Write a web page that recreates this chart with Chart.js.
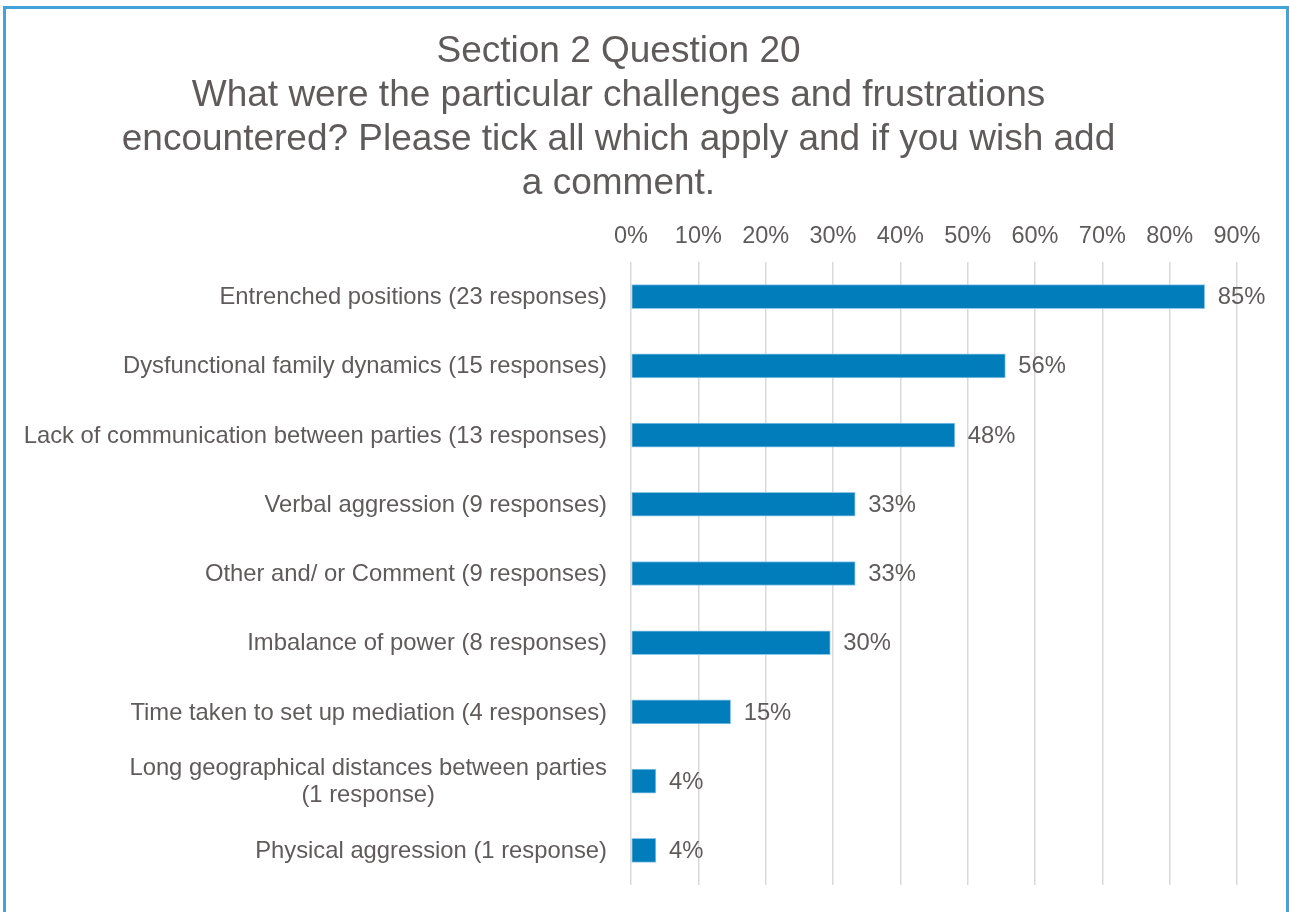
<!DOCTYPE html>
<html lang="en">
<head>
<meta charset="UTF-8">
<title>Section 2 Question 20</title>
<script src="https://cdn.jsdelivr.net/npm/chart.js@4.4.1/dist/chart.umd.min.js"></script>
<style>
  body { margin: 0; background: #fff; overflow: hidden; }
  #chart { position: absolute; left: 0; top: 0; }
  /* blue frame round the whole chart, open at the bottom of the window */
  #frame { position: absolute; left: 3px; top: 6px; width: 1280px; height: 1000px;
           border: 3px solid #42a4d8; pointer-events: none; }
</style>
</head>
<body>
<canvas id="chart" width="1289" height="912"></canvas>
<div id="frame"></div>
<script>
  const titleLines = [
    'Section 2 Question 20',
    'What were the particular challenges and frustrations',
    'encountered? Please tick all which apply and if you wish add',
    'a comment.'
  ];

  const categories = [
    'Entrenched positions (23 responses)',
    'Dysfunctional family dynamics (15 responses)',
    'Lack of communication between parties (13 responses)',
    'Verbal aggression (9 responses)',
    'Other and/ or Comment (9 responses)',
    'Imbalance of power (8 responses)',
    'Time taken to set up mediation (4 responses)',
    ['Long geographical distances between parties', '(1 response)'],
    'Physical aggression (1 response)'
  ];

  // share of respondents (27 in total), in percent
  const shares = [85.2, 55.6, 48.1, 33.3, 33.3, 29.6, 14.8, 3.7, 3.7];

  const xTicks = [0, 10, 20, 30, 40, 50, 60, 70, 80, 90];

  const textColor = '#5f5b5b';
  const fontFamily = '"Liberation Sans", Arial, sans-serif';
  const labelSize = 23.8;

  // value labels after each bar + category labels (centred lines, right-aligned block)
  const labelPlugin = {
    id: 'labelPlugin',
    afterDatasetsDraw(chart) {
      const ctx = chart.ctx;
      const meta = chart.getDatasetMeta(0);
      const yScale = chart.scales.y;
      ctx.save();
      ctx.font = labelSize + 'px ' + fontFamily;
      ctx.fillStyle = textColor;
      ctx.textBaseline = 'middle';

      ctx.textAlign = 'left';
      meta.data.forEach((bar, i) => {
        ctx.fillText(Math.round(shares[i]) + '%', bar.x + 13, bar.y + 1);
      });

      ctx.textAlign = 'center';
      const right = yScale.right - 24;
      categories.forEach((cat, i) => {
        const lines = Array.isArray(cat) ? cat : [cat];
        const w = Math.max(...lines.map(l => ctx.measureText(l).width));
        const cx = right - w / 2;
        const y0 = yScale.getPixelForTick(i) - (lines.length - 1) * 27 / 2;
        lines.forEach((l, k) => ctx.fillText(l, cx, y0 + k * 27 + 1));
      });
      ctx.restore();
    }
  };

  new Chart(document.getElementById('chart'), {
    type: 'bar',
    data: {
      labels: categories,
      datasets: [{
        data: shares,
        backgroundColor: '#007dba',
        borderColor: '#8cc7e8',
        borderWidth: 1,
        borderSkipped: false,
        barThickness: 24
      }]
    },
    options: {
      indexAxis: 'y',
      responsive: false,
      animation: false,
      layout: { padding: { left: 0, right: 52, top: 0, bottom: 27 } },
      plugins: {
        legend: { display: false },
        tooltip: { enabled: false },
        title: {
          display: true,
          text: titleLines,
          color: textColor,
          font: { family: fontFamily, size: 37, weight: 'normal', lineHeight: '44px' },
          padding: { top: 30, bottom: 0 }
        }
      },
      scales: {
        x: {
          type: 'linear',
          position: 'top',
          min: 0,
          max: 90,
          afterBuildTicks: s => { s.ticks = xTicks.map(v => ({ value: v })); },
          afterFit: s => { s.height = 56; },
          ticks: {
            color: textColor,
            font: { family: fontFamily, size: 23.5 },
            padding: 11,
            maxRotation: 0,
            callback: v => v + '%'
          },
          grid: { color: '#d9d9d9', lineWidth: 1.5, drawTicks: false },
          border: { display: false }
        },
        y: {
          afterFit: s => { s.width = 631; },
          ticks: { display: false },
          grid: { display: false },
          border: { display: false }
        }
      }
    },
    plugins: [labelPlugin]
  });
</script>
</body>
</html>
